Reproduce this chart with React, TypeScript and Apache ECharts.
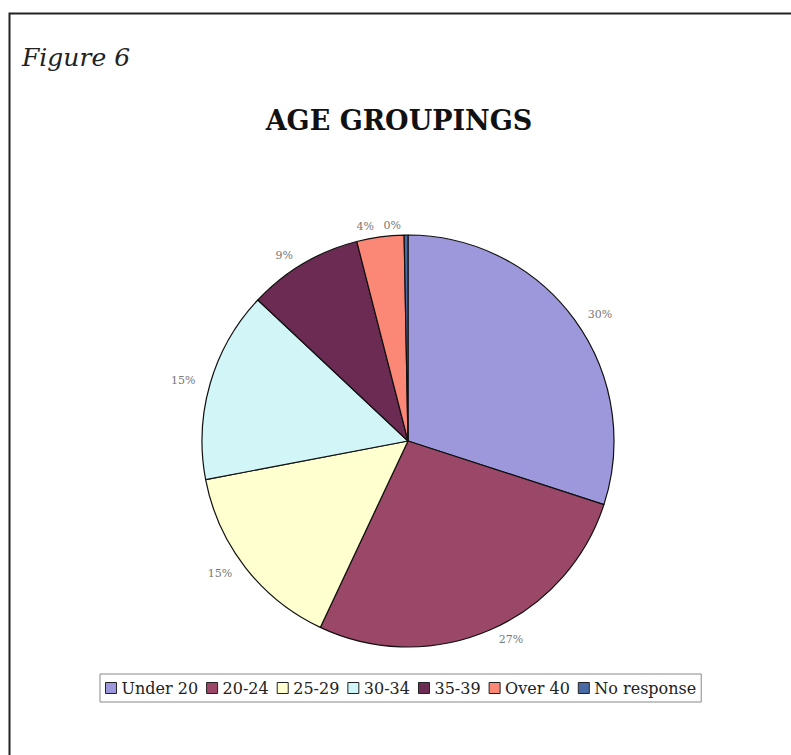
import React, { useEffect, useRef } from "react";
import * as echarts from "echarts";

const categories = ["Under 20", "20-24", "25-29", "30-34", "35-39", "Over 40", "No response"];
const values = [30, 27, 15, 15, 9, 3.7, 0.3];
const labels = ["30%", "27%", "15%", "15%", "9%", "4%", "0%"];
const colors = ["#9d98db", "#9b4868", "#ffffcf", "#d2f6f8", "#6c2b52", "#fb8777", "#4a6aa6"];

export default function App() {
  const ref = useRef<HTMLDivElement>(null);
  useEffect(() => {
    document.body.style.margin = "0";
    const chart = echarts.init(ref.current!, null, { renderer: "svg" });
    const serif = "'DejaVu Serif', 'Liberation Serif', serif";
    chart.setOption({
      animation: false,
      backgroundColor: "#ffffff",
      graphic: [
        {
          type: "rect",
          shape: { x: 9.5, y: 13.5, width: 800, height: 800 },
          style: { fill: "none", stroke: "#222", lineWidth: 2 },
        },
        {
          type: "text",
          left: 22,
          top: 45,
          style: { text: "Figure 6", font: `italic 25px ${serif}`, fill: "#222" },
        },
      ],
      title: {
        text: "AGE GROUPINGS",
        left: 394,
        textAlign: "center",
        top: 102,
        textStyle: { fontFamily: serif, fontWeight: "bold", fontSize: 27, color: "#111" },
      },
      legend: {
        data: categories,
        left: 100,
        top: 674,
        orient: "horizontal",
        icon: "rect",
        itemWidth: 11,
        itemHeight: 11,
        itemGap: 8,
        borderColor: "#888",
        borderWidth: 1,
        padding: [6, 5, 6, 5],
        textStyle: { fontFamily: serif, fontSize: 16, color: "#222" },
        itemStyle: { borderColor: "#222", borderWidth: 1 },
      },
      series: [
        {
          type: "pie",
          center: [408, 441],
          radius: 206,
          startAngle: 90,
          clockwise: true,
          avoidLabelOverlap: false,
          data: categories.map((c, i) => ({
            name: c,
            value: values[i],
            itemStyle: { color: colors[i] },
          })),
          itemStyle: { borderColor: "#111", borderWidth: 1.2 },
          label: {
            show: true,
            position: "outside",
            formatter: (p: any) => labels[p.dataIndex],
            fontFamily: serif,
            fontSize: 11,
            color: "#777",
          },
          labelLine: { show: false, length: 10, length2: 0 },
          emphasis: { disabled: true },
        },
      ],
    });
    return () => chart.dispose();
  }, []);
  return <div ref={ref} style={{ width: 791, height: 755 }} />;
}
